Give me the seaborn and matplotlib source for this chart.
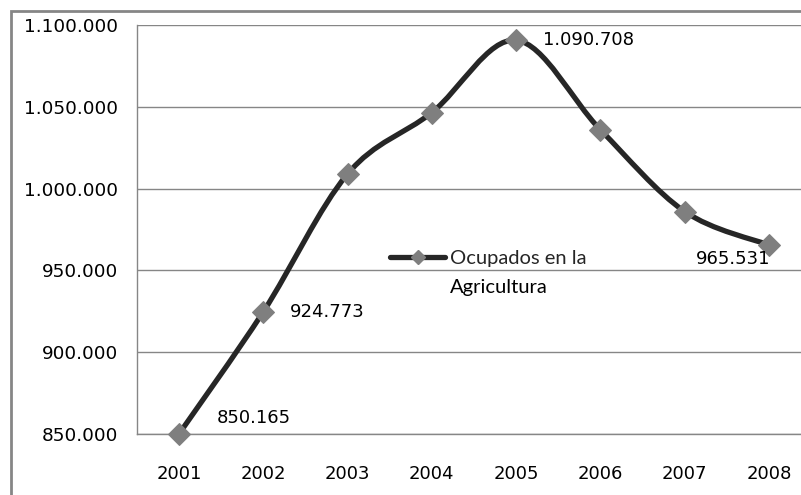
import matplotlib
matplotlib.use("Agg")
import matplotlib.pyplot as plt
import seaborn as sns
import numpy as np
import pandas as pd
from matplotlib.path import Path
from matplotlib.patches import PathPatch, Rectangle
from matplotlib.lines import Line2D
from matplotlib.ticker import FuncFormatter, FixedLocator

years = ["2001", "2002", "2003", "2004", "2005", "2006", "2007", "2008"]
ocupados = [850165, 924773, 1009000, 1046500, 1090708, 1036000, 986000, 965531]
labelled = {"2001": 850165, "2002": 924773, "2005": 1090708, "2008": 965531}
y_ticks = [850000, 900000, 950000, 1000000, 1050000, 1100000]
series_name = "Ocupados en la"
series_name2 = "Agricultura"

sns.set_style("white")
plt.rcParams["font.family"] = ["DejaVu Sans"]

W, H = 801, 495
fig = plt.figure(figsize=(W / 100, H / 100), dpi=100)
L, R, T, B = 137, 811, 25, 434
ax = fig.add_axes([L / W, 1 - B / H, (R - L) / W, (B - T) / H])

df = pd.DataFrame({"x": np.arange(len(years)), "y": ocupados})

# smoothed line (Bezier through the data points, like Excel "smoothed line")
xs = df["x"].to_numpy(dtype=float)
ys = df["y"].to_numpy(dtype=float)
P = np.column_stack([xs, ys])
verts = [P[0]]
codes = [Path.MOVETO]
n = len(P)
for i in range(n - 1):
    p0 = P[i - 1] if i > 0 else P[i]
    p1 = P[i]
    p2 = P[i + 1]
    p3 = P[i + 2] if i + 2 < n else P[i + 1]
    c1 = p1 + (p2 - p0) / 6.0
    c2 = p2 - (p3 - p1) / 6.0
    verts += [c1, c2, p2]
    codes += [Path.CURVE4] * 3
ax.add_patch(PathPatch(Path(verts, codes), facecolor="none", edgecolor="#262626",
                       lw=3.8, capstyle="round", joinstyle="round", zorder=3,
                       clip_on=False))

sns.lineplot(data=df, x="x", y="y", ax=ax, linestyle="", marker="D",
             markersize=11, color="#7f7f7f", markeredgecolor="#7f7f7f",
             zorder=4, legend=False, clip_on=False)

ax.set_xlim(-0.5, len(years) - 0.5)
ax.set_ylim(850000, 1100000)
ax.set_yticks(y_ticks)
ax.yaxis.set_major_formatter(FuncFormatter(lambda v, p: f"{int(v):,}".replace(",", ".")))
ax.set_xticks(np.arange(len(years)))
ax.set_xticklabels(years)
ax.xaxis.set_minor_locator(FixedLocator(np.arange(len(years) + 1) - 0.5))
ax.tick_params(axis="x", which="major", length=0, pad=22, labelsize=13, colors="black")
ax.tick_params(axis="x", which="minor", length=6, width=1, color="#868686", direction="out")
ax.tick_params(axis="y", which="major", length=4.5, width=1, color="#868686", pad=9,
               labelsize=13.3, labelcolor="black", direction="out")
ax.set_xlabel("")
ax.set_ylabel("")
ax.grid(axis="y", color="#868686", lw=1)
ax.grid(axis="x", visible=False)
for s in ["top", "right"]:
    ax.spines[s].set_visible(False)
for s in ["left", "bottom"]:
    ax.spines[s].set_color("#868686")
    ax.spines[s].set_linewidth(1)
ax.set_axisbelow(True)

# data labels
offsets = {"2001": (27, 11.5, "left"), "2002": (19, 0, "left"),
           "2005": (19.5, 0, "left"), "2008": (-26, -10, "center")}
for yr, val in labelled.items():
    i = years.index(yr)
    dx, dy, ha = offsets[yr]
    ax.annotate(f"{val:,}".replace(",", "."), (i, val), xytext=(dx, dy),
                textcoords="offset points", ha=ha, va="center", fontsize=13,
                color="black", zorder=5)

# legend
handle = Line2D([], [], color="#262626", lw=3.8, marker="D", markersize=7,
                markerfacecolor="#7f7f7f", markeredgecolor="#7f7f7f")
leg = ax.legend([handle], [series_name], loc="center left",
                bbox_to_anchor=((390 - L) / (R - L), (B - 258) / (B - T)),
                frameon=False, handlelength=2.75, handletextpad=0.25,
                prop={"family": "Lato", "size": 14.5}, borderaxespad=0, borderpad=0)
fig.text(450 / W, 1 - 287 / H, series_name2, ha="left", va="center",
         fontsize=14.5, family="Lato", color="black")

# outer chart frame
fig.patches.append(Rectangle((11 / W, -0.1), 1.2, 1 - 11 / H + 0.1,
                             transform=fig.transFigure, fill=False,
                             edgecolor="#868686", lw=2))

fig.savefig("out.png", dpi=100)
